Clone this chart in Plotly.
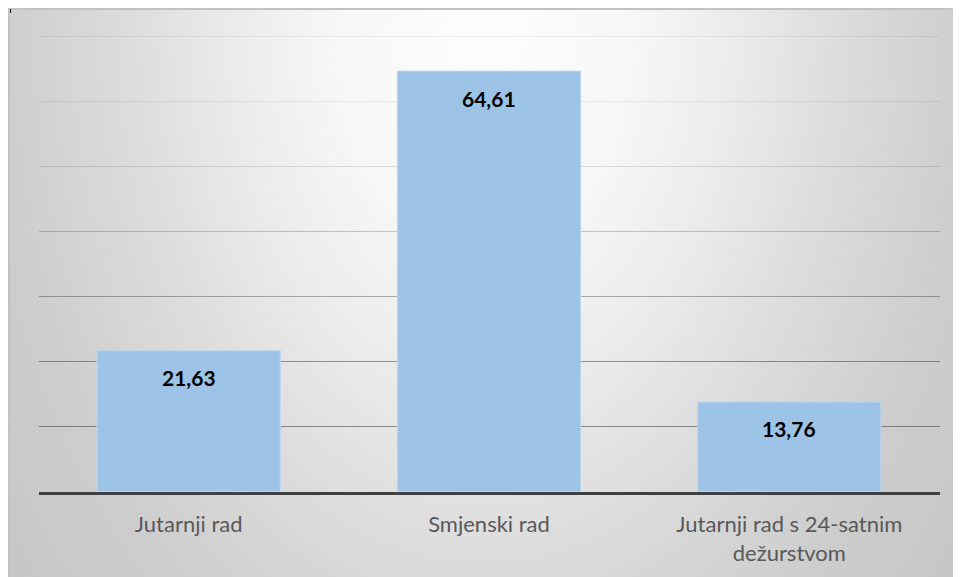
import base64
import plotly.graph_objects as go

# ---- data ----
categories = ["Jutarnji rad", "Smjenski rad", "Jutarnji rad s 24-satnim<br>dežurstvom"]
values = [21.63, 64.61, 13.76]
value_labels = ["21,63", "64,61", "13,76"]
grid_levels = [10, 20, 30, 40, 50, 60, 70]
y_range = [0, 72]

# ---- styling ----
W, H = 961, 577
grid_alpha = [0.4, 0.38, 0.3, 0.2, 0.12, 0.07, 0.06]


def fx(px):
    return px / W


def fy(py):
    return 1 - py / H


# radial background as an SVG image covering the whole figure
svg = f"""<svg xmlns='http://www.w3.org/2000/svg' width='{W}' height='{H}' viewBox='0 0 {W} {H}' preserveAspectRatio='none'>
<defs><radialGradient id='g' gradientUnits='userSpaceOnUse' cx='0' cy='0' r='1'
 gradientTransform='translate(476 22) scale({489*1.25} {711*1.25})'>
<stop offset='0' stop-color='#fdfdfd'/>
<stop offset='0.24' stop-color='#f7f7f7'/>
<stop offset='0.4' stop-color='#ececec'/>
<stop offset='0.6' stop-color='#dbdbdb'/>
<stop offset='0.8' stop-color='#cdcdcd'/>
<stop offset='1' stop-color='#c6c6c6'/>
</radialGradient></defs>
<rect width='{W}' height='{H}' fill='url(#g)'/>
<path d='M1 {H} L1 1 L{W} 1' fill='none' stroke='#c2c2c2' stroke-width='2'/>
</svg>"""
bg_src = "data:image/svg+xml;base64," + base64.b64encode(svg.encode()).decode()

fig = go.Figure()
fig.add_trace(go.Bar(
    x=categories, y=values,
    marker=dict(color="#9dc3e6", line=dict(color="#bdd7ee", width=1)),
    hoverinfo="skip", showlegend=False,
))

layout_axes = {}
for i, (lv, a) in enumerate(zip(grid_levels, grid_alpha)):
    n = i + 2
    fig.add_trace(go.Scatter(x=[], y=[], yaxis=f"y{n}", showlegend=False, hoverinfo="skip"))
    layout_axes[f"yaxis{n}"] = dict(
        overlaying="y", anchor="x", range=y_range, tickvals=[lv],
        showgrid=True, gridcolor=f"rgba(0,0,0,{a})", gridwidth=1,
        showticklabels=False, ticks="", zeroline=False, showline=False,
    )

annotations = [
    dict(x=c, y=v, text=f"<b>{l}</b>", showarrow=False, yanchor="middle",
         yshift=-27, font=dict(family="Lato", size=21, color="#000000"))
    for c, v, l in zip(categories, values, value_labels)
]

zero_px = 483.5
fig.update_layout(
    width=W, height=H, autosize=False,
    margin=dict(l=0, r=0, t=0, b=0),
    paper_bgcolor="#ffffff", plot_bgcolor="rgba(0,0,0,0)",
    bargap=0.39,
    showlegend=False,
    xaxis=dict(
        domain=[fx(30.5), fx(931.5)],
        showline=True, linecolor="#404040", linewidth=3,
        ticks="", showgrid=False, zeroline=False,
        tickfont=dict(family="Lato", size=22, color="#595959"),
        ticklabelstandoff=11,
    ),
    yaxis=dict(
        domain=[fy(zero_px), fy(zero_px - 72 * 6.507)],
        range=y_range, showgrid=False, showticklabels=False,
        ticks="", zeroline=False, showline=False,
    ),
    annotations=annotations,
    images=[dict(
        source=bg_src, xref="paper", yref="paper",
        x=0, y=1, sizex=1, sizey=1,
        xanchor="left", yanchor="top", sizing="stretch", layer="below",
    )],
    shapes=[dict(type="line", xref="paper", yref="paper",
                 x0=fx(2.5), x1=fx(2.5), y0=fy(1), y1=fy(5),
                 line=dict(color="#000000", width=1))],
    **layout_axes,
)

fig.write_html("out.html")
